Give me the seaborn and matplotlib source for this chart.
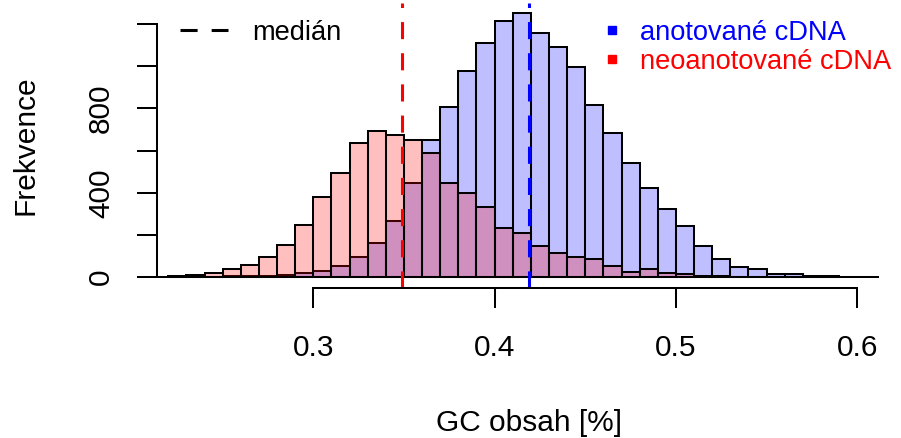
import numpy as np
import pandas as pd
import matplotlib
matplotlib.use("Agg")
import matplotlib.pyplot as plt
from matplotlib.lines import Line2D
import seaborn as sns

# ---- data ----
bin_edges = [round(0.22 + 0.01 * k, 2) for k in range(38)]   # GC bins (0.22 .. 0.59)
annotated_counts = [1, 2, 2, 5, 6, 8, 10, 20, 31, 55, 95, 161, 267, 448, 650, 805,
                    977, 1111, 1214, 1250, 1155, 1089, 994, 816, 682, 540, 424, 322,
                    244, 150, 87, 47, 38, 14, 16, 6, 5]
unannotated_counts = [6, 9, 20, 40, 56, 97, 153, 248, 382, 495, 634, 693, 674, 650,
                      587, 445, 398, 331, 235, 208, 150, 114, 95, 85, 55, 27, 38, 19,
                      17, 6, 4, 3, 2, 1, 2, 0, 0]
median_annotated = 0.419
median_unannotated = 0.349
x_ticks = [0.3, 0.4, 0.5, 0.6]
y_ticks = [0, 200, 400, 600, 800, 1000, 1200]
y_ticklabels = ["0", "", "400", "", "800", "", ""]
xlabel = "GC obsah [%]"
ylabel = "Frekvence"
legend_median = "medián"
legend_series = ["anotované cDNA", "neoanotované cDNA"]

edges = np.array(bin_edges)
centers = (edges[:-1] + edges[1:]) / 2
df = pd.DataFrame({"gc": centers, "ann": annotated_counts, "unann": unannotated_counts})

sns.set_style("ticks")
plt.rcParams["font.family"] = ["Liberation Sans", "DejaVu Sans"]

W, H = 901, 438
fig = plt.figure(figsize=(W / 100, H / 100), dpi=100)

def fx(px):
    return px / W

def fy(py):
    return 1 - py / H

left_px, right_px, top_px, bot_px = 156.7, 878.7, 2.7, 287.8
ax = fig.add_axes([fx(left_px), fy(bot_px), fx(right_px) - fx(left_px), fy(top_px) - fy(bot_px)])

LW = 1.45
n0 = len(ax.patches)
sns.histplot(data=df, x="gc", weights="ann", bins=bin_edges, ax=ax, stat="count",
             element="bars", fill=True, edgecolor="black", linewidth=LW)
for p in ax.patches[n0:]:
    p.set_alpha(None)
    p.set_facecolor((0, 0, 1, 0.25))
    p.set_edgecolor("black")
n1 = len(ax.patches)
sns.histplot(data=df, x="gc", weights="unann", bins=bin_edges, ax=ax, stat="count",
             element="bars", fill=True, edgecolor="black", linewidth=LW)
for p in ax.patches[n1:]:
    p.set_alpha(None)
    p.set_facecolor((1, 0, 0, 0.25))
    p.set_edgecolor("black")

ax.axhline(0, color="black", lw=LW, zorder=0.5)

dash = (0, (5.6, 4.6))
ax.axvline(median_unannotated, color="red", lw=2.2, linestyle=dash, dash_capstyle="butt")
ax.axvline(median_annotated, color="blue", lw=2.2, linestyle=dash, dash_capstyle="butt")

# axes range
def data_x(px):
    return 0.3 + (px - 313.3) / 1813.3

ax.set_xlim(data_x(left_px), data_x(right_px))
ax.set_ylim(-50, 1300)

for s in ["top", "right"]:
    ax.spines[s].set_visible(False)
ax.spines["left"].set_bounds(0, 1200)
ax.spines["bottom"].set_bounds(0.3, 0.6)
for s in ["left", "bottom"]:
    ax.spines[s].set_color("black")
    ax.spines[s].set_linewidth(LW)

AXFS = 21.5
ax.set_xticks(x_ticks)
ax.set_xticklabels([f"{v:.1f}" for v in x_ticks])
ax.set_yticks(y_ticks)
ax.set_yticklabels(y_ticklabels, rotation=90, va="center")
ax.tick_params(axis="both", direction="out", length=14.5, width=LW, color="black",
               labelcolor="black", labelsize=AXFS)
ax.tick_params(axis="x", pad=19.0)
ax.tick_params(axis="y", pad=15.5)

ax.set_xlabel(xlabel, fontsize=AXFS, color="black")
ax.set_ylabel(ylabel, fontsize=AXFS, color="black")
ax.xaxis.set_label_coords(fx(529.5), fy(409.0), transform=fig.transFigure)
ax.xaxis.label.set_va("top")
ax.yaxis.set_label_coords(fx(39.5), fy(145), transform=fig.transFigure)

LGFS = 19.6
h_med = [Line2D([], [], color="black", lw=2.2, linestyle=dash, dash_capstyle="butt")]
leg1 = ax.legend(h_med, [legend_median], loc="upper left",
                 bbox_to_anchor=(fx(180), fy(20)), bbox_transform=fig.transFigure,
                 frameon=False, fontsize=LGFS, handlelength=1.78, handletextpad=0.88,
                 borderpad=0, borderaxespad=0)
for t in leg1.get_texts():
    t.set_color("black")
ax.add_artist(leg1)

h_ser = [Line2D([], [], marker="s", ls="", color="blue", markersize=6.4),
         Line2D([], [], marker="s", ls="", color="red", markersize=6.4)]
leg2 = ax.legend(h_ser, legend_series, loc="upper left",
                 bbox_to_anchor=(fx(603.5), fy(20)), bbox_transform=fig.transFigure,
                 frameon=False, fontsize=LGFS, handlelength=0.6, handletextpad=0.75,
                 labelspacing=0.1, borderpad=0, borderaxespad=0)
for t, c in zip(leg2.get_texts(), ["blue", "red"]):
    t.set_color(c)

fig.savefig("out.png", dpi=100)
